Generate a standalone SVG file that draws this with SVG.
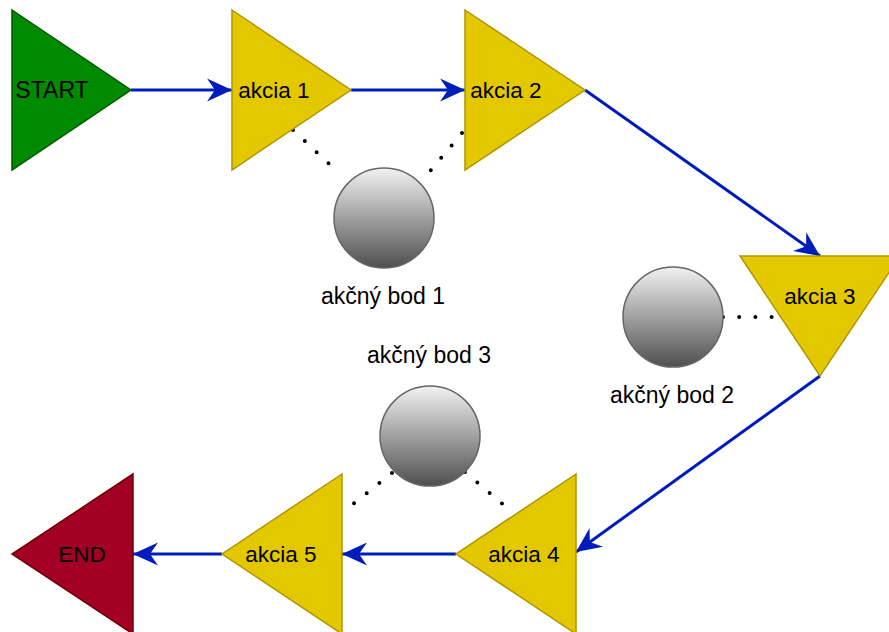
<svg xmlns="http://www.w3.org/2000/svg" width="889" height="632" viewBox="0 0 889 632">
<style>
.lbl{font-family:"Liberation Sans",Arial,sans-serif;font-size:22.5px;fill:#000;text-anchor:middle}
.bod{font-size:23px}
.yel{fill:#e3c800;stroke:#b09500;stroke-width:1.5}
.flow{fill:none;stroke:#001dbc;stroke-width:3;marker-end:url(#arr)}
.dot{fill:none;stroke:#000;stroke-width:4;stroke-linecap:round;stroke-dasharray:0 16.2}
.ball{fill:url(#g);stroke:#666;stroke-width:1.5}
</style>
<defs>
<linearGradient id="g" x1="0" y1="0" x2="0" y2="1">
<stop offset="0" stop-color="#f2f2f2"/>
<stop offset="1" stop-color="#4f4f4f"/>
</linearGradient>
<marker id="arr" markerUnits="userSpaceOnUse" viewBox="-26 -13 27 26" markerWidth="27" markerHeight="26" refX="0" refY="0" orient="auto">
<path d="M0,0 L-25,-11.5 L-17,0 L-25,11.5 Z" fill="#001dbc"/>
</marker>
</defs>
<rect width="889" height="632" fill="#fff"/>
<g id="connectors">
<path class="flow" d="M131,90 L232,90"/>
<path class="flow" d="M351,90 L465,90"/>
<path class="flow" d="M585,90 L820,256"/>
<path class="flow" d="M820,376 L576,552"/>
<path class="flow" d="M456,554 L342,554"/>
<path class="flow" d="M222,554 L133,554"/>
<path class="dot" d="M293,130 L340,174"/>
<path class="dot" d="M462,133 L421,182"/>
<path class="dot" d="M723,317 L773,317"/>
<path class="dot" d="M392,473 L342,513"/>
<path class="dot" d="M465,472 L513,513"/>
</g>
<g id="start">
<polygon points="12,10 131,90 12,170" fill="#008a00" stroke="#005700" stroke-width="1.5"/>
<text class="lbl" x="52" y="97.5" style="font-size:23px">START</text>
</g>
<g id="akcia1">
<polygon class="yel" points="232,10 351,90 232,170"/>
<text class="lbl" x="274" y="97.5">akcia 1</text>
</g>
<g id="akcia2">
<polygon class="yel" points="465,10 585,90 465,170"/>
<text class="lbl" x="506" y="97.5">akcia 2</text>
</g>
<g id="akcia3">
<polygon class="yel" points="740,256 900,256 820,376"/>
<text class="lbl" x="820" y="304">akcia 3</text>
</g>
<g id="akcia4">
<polygon class="yel" points="576,474 456,554 576,634"/>
<text class="lbl" x="524" y="562">akcia 4</text>
</g>
<g id="akcia5">
<polygon class="yel" points="342,474 222,554 342,634"/>
<text class="lbl" x="281" y="562">akcia 5</text>
</g>
<g id="end">
<polygon points="133,474 12,554 133,634" fill="#a20025" stroke="#6f0000" stroke-width="1.5"/>
<text class="lbl" x="82" y="562">END</text>
</g>
<g id="bod1">
<ellipse class="ball" cx="384" cy="218" rx="50" ry="50"/>
<text class="lbl bod" x="383" y="304">akčný bod 1</text>
</g>
<g id="bod2">
<ellipse class="ball" cx="673" cy="317" rx="50" ry="50"/>
<text class="lbl bod" x="672" y="403">akčný bod 2</text>
</g>
<g id="bod3">
<ellipse class="ball" cx="430" cy="436" rx="50" ry="50"/>
<text class="lbl bod" x="429" y="363">akčný bod 3</text>
</g>
</svg>
